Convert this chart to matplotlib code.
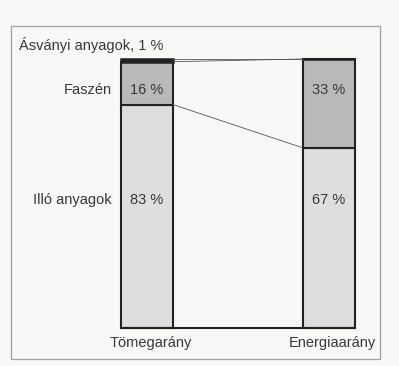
import matplotlib.pyplot as plt
from matplotlib.patches import Rectangle

plt.rcParams['font.family'] = ['Liberation Sans', 'DejaVu Sans']

categories = ['Tömegarány', 'Energiaarány']
illo = [83, 67]
faszen = [16, 33]
asvanyi = [1, 0]
row_labels = ['Illó anyagok', 'Faszén']
top_label = 'Ásványi anyagok, 1 %'

col_illo = '#dedede'
col_fasz = '#b9b9b9'
col_asv = '#1e1e1e'
txt = '#383838'
fs = 10.5

fig = plt.figure(figsize=(3.99, 3.66), dpi=100)
fig.patch.set_facecolor('#f8f8f6')
ax = fig.add_axes([0, 0, 1, 1])
ax.set_facecolor('none')
ax.axis('off')
ax.set_xlim(-0.8077, 1.3846)
ax.set_ylim(-14.13, 121.93)

# frame
fig.patches.append(Rectangle((11 / 399, 1 - 359 / 366), 369 / 399, 333 / 366,
                             transform=fig.transFigure, fill=False,
                             edgecolor='#a0a0a0', lw=0.9))

x = [0, 1]
w = 0.29
bot2 = [a + b for a, b in zip(illo, faszen)]
ax.bar(x, illo, w, color=col_illo, edgecolor='#222222', lw=1.5)
ax.bar(x, faszen, w, bottom=illo, color=col_fasz, edgecolor='#222222', lw=1.5)
ax.bar(x, asvanyi, w, bottom=bot2, color=col_asv, edgecolor='#222222', lw=1.8)

# baseline
ax.plot([x[0] - w / 2, x[1] + w / 2], [0, 0], color='#222222', lw=1.5, zorder=3)

# connecting lines
for a, b in [(illo[0], illo[1]), (bot2[0], bot2[1]), (100, 100)]:
    ax.plot([x[0] + w / 2, x[1] - w / 2], [a, b], color='#555555', lw=0.6)

rows = [47.5, 88.5]
for i in range(2):
    ax.text(x[i], rows[0], f'{illo[i]} %', ha='center', va='center', fontsize=fs, color=txt)
    ax.text(x[i], rows[1], f'{faszen[i]} %', ha='center', va='center', fontsize=fs, color=txt)
    ax.text(x[i] + 0.02, -5.6, categories[i], ha='center', va='center', fontsize=fs, color=txt)

ax.text(-0.192, rows[0], row_labels[0], ha='right', va='center', fontsize=fs, color=txt)
ax.text(-0.192, rows[1], row_labels[1], ha='right', va='center', fontsize=fs, color=txt)
ax.text(-0.703, 105.2, top_label, ha='left', va='center', fontsize=fs, color=txt)

fig.savefig('out.png', dpi=100, facecolor=fig.get_facecolor())
